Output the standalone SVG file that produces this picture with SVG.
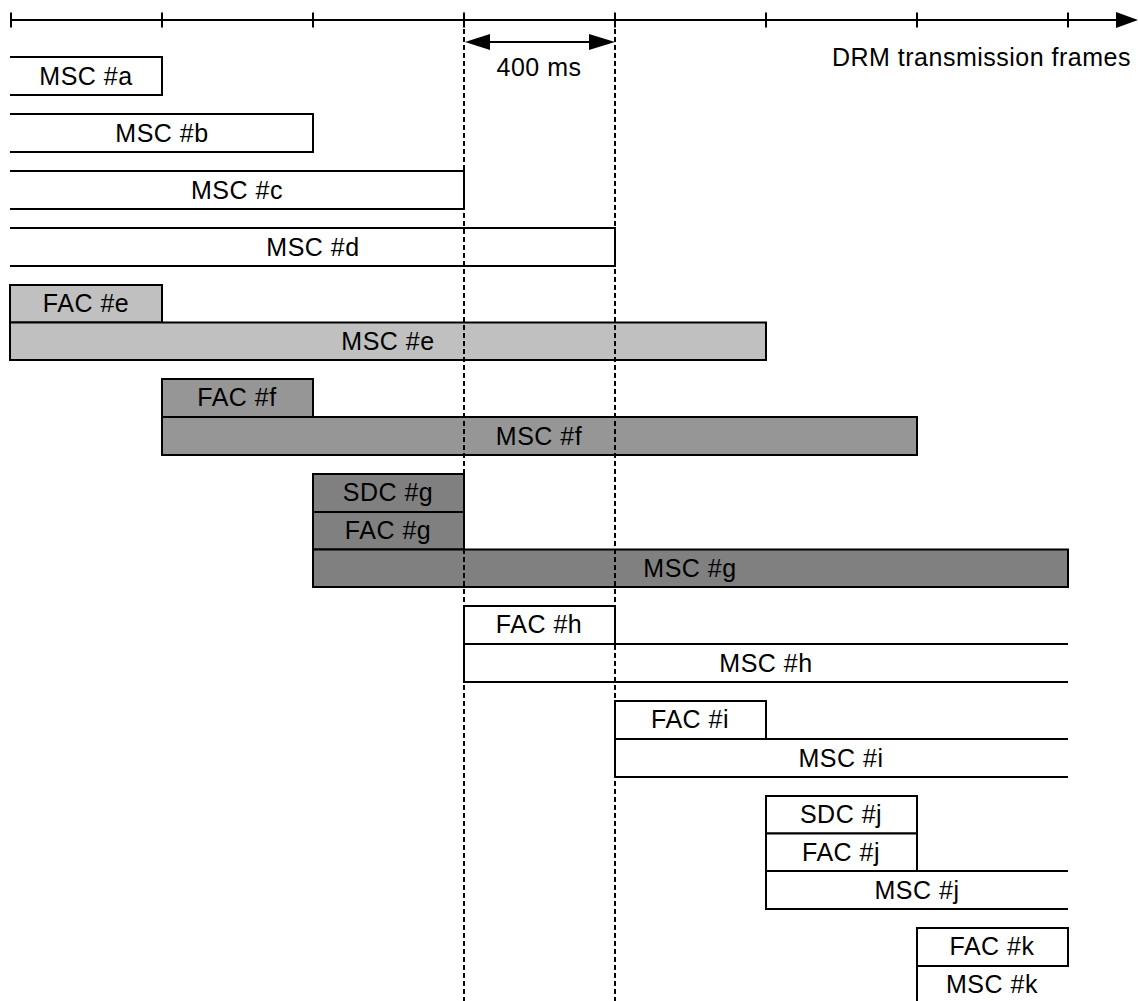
<svg xmlns="http://www.w3.org/2000/svg" width="1138" height="1001" viewBox="0 0 1138 1001">
<style>
text{font-family:"Liberation Sans",Arial,sans-serif;font-size:25px;letter-spacing:0.5px;fill:#000;text-anchor:middle}
.ln{fill:none;stroke:#000;stroke-width:2}
.bx{stroke:#000;stroke-width:2}
.w{fill:#fff}
.l1{fill:#c0c0c0}
.l2{fill:#969696}
.l3{fill:#808080}
.dash{fill:none;stroke:#000;stroke-width:2;stroke-dasharray:5 3}
</style>
<rect width="1138" height="1001" fill="#fff"/>

<g id="nodes">
<g id="msc-a"><path class="ln w" d="M10,57 H162 V95 H10"/><text x="86" y="85">MSC #a</text></g>
<g id="msc-b"><path class="ln w" d="M10,114 H313 V152 H10"/><text x="162" y="142">MSC #b</text></g>
<g id="msc-c"><path class="ln w" d="M10,171 H464 V209 H10"/><text x="237" y="199">MSC #c</text></g>
<g id="msc-d"><path class="ln w" d="M10,228 H615 V266 H10"/><text x="313" y="256">MSC #d</text></g>

<g id="fac-e"><rect class="bx l1" x="10" y="285" width="152" height="37.5"/><text x="86" y="312">FAC #e</text></g>
<g id="msc-e"><rect class="bx l1" x="10" y="322.5" width="756" height="37.5"/><text x="388" y="350">MSC #e</text></g>

<g id="fac-f"><rect class="bx l2" x="162" y="379" width="151" height="38"/><text x="237" y="406">FAC #f</text></g>
<g id="msc-f"><rect class="bx l2" x="162" y="417" width="755" height="38"/><text x="539" y="445">MSC #f</text></g>

<g id="sdc-g"><rect class="bx l3" x="313" y="474" width="151" height="38"/><text x="388" y="501">SDC #g</text></g>
<g id="fac-g"><rect class="bx l3" x="313" y="512" width="151" height="37.5"/><text x="388" y="539">FAC #g</text></g>
<g id="msc-g"><rect class="bx l3" x="313" y="549.5" width="755" height="37.5"/><text x="690" y="577">MSC #g</text></g>

<g id="fac-h"><rect class="bx w" x="464" y="606" width="151" height="38"/><text x="539" y="633">FAC #h</text></g>
<g id="msc-h"><path class="ln" d="M1068,644 H464 V682 H1068"/><text x="766" y="672">MSC #h</text></g>

<g id="fac-i"><rect class="bx w" x="615" y="701" width="151" height="38"/><text x="690" y="728">FAC #i</text></g>
<g id="msc-i"><path class="ln" d="M1068,739 H615 V777 H1068"/><text x="841" y="767">MSC #i</text></g>

<g id="sdc-j"><rect class="bx w" x="766" y="796" width="151" height="37.5"/><text x="841" y="823">SDC #j</text></g>
<g id="fac-j"><rect class="bx w" x="766" y="833.5" width="151" height="37.5"/><text x="841" y="861">FAC #j</text></g>
<g id="msc-j"><path class="ln" d="M1068,871 H766 V909 H1068"/><text x="917" y="899">MSC #j</text></g>

<g id="fac-k"><rect class="bx w" x="917" y="928" width="151" height="38"/><text x="992" y="955">FAC #k</text></g>
<g id="msc-k"><path class="ln" d="M1068,966 H917 V1001"/><text x="992" y="993">MSC #k</text></g>
</g>

<g id="connectors">
<line class="ln" x1="10" y1="20" x2="1118" y2="20"/>
<path d="M1138,20 L1116,12 L1116,28 Z" fill="#000"/>
<path class="ln" d="M11,12.5 V27.5 M162,12.5 V27.5 M313,12.5 V27.5 M464,12.5 V27.5 M615,12.5 V27.5 M766,12.5 V27.5 M917,12.5 V27.5 M1068,12.5 V27.5"/>
<line class="dash" x1="464" y1="13" x2="464" y2="1001"/>
<line class="dash" x1="615" y1="13" x2="615" y2="1001"/>
<line class="ln" x1="490" y1="42" x2="589" y2="42"/>
<path d="M465,42 L490,34 L490,50 Z M615,42 L589,34 L589,50 Z" fill="#000"/>
</g>

<g id="labels">
<text x="539" y="76">400 ms</text>
<text x="1131" y="66" style="text-anchor:end">DRM transmission frames</text>
</g>
</svg>
